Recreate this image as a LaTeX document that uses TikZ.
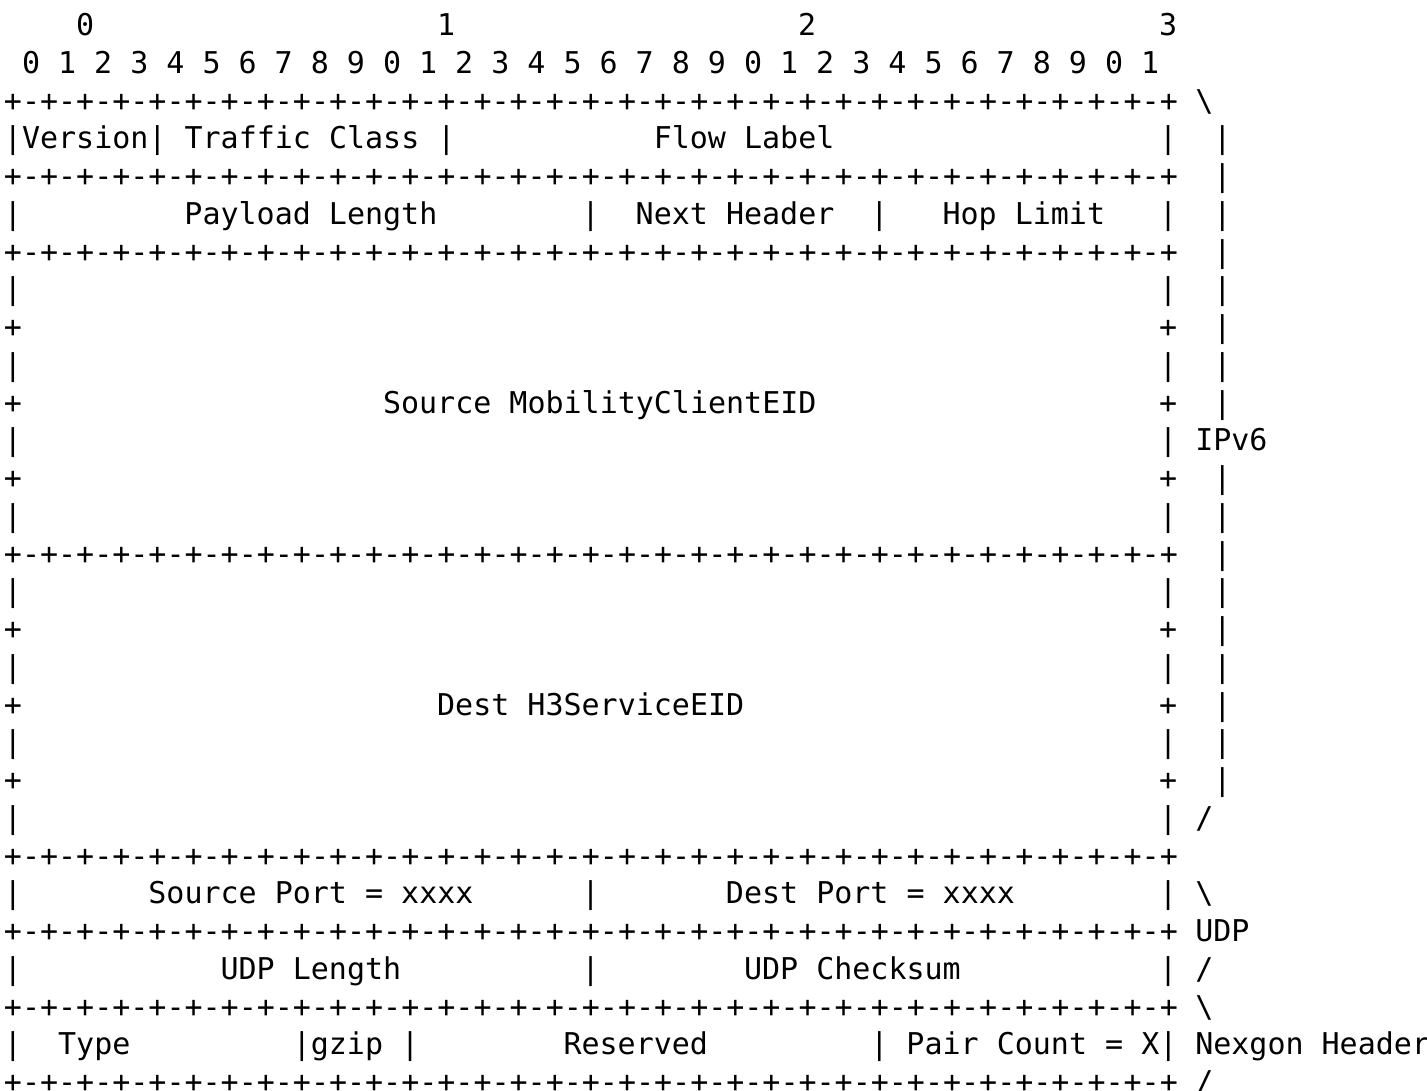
\documentclass[tikz,border=0pt]{standalone}
\usepackage{fontspec}
\usepackage{tikz}
\newfontfamily\pktfont{DejaVu Sans Mono}
\newcommand\bitrow{+-+-+-+-+-+-+-+-+-+-+-+-+-+-+-+-+-+-+-+-+-+-+-+-+-+-+-+-+-+-+-+-+}

\begin{document}
\begin{tikzpicture}[
  x=9.025pt, y=-18.875pt,
  every node/.style={anchor=base west, inner sep=0pt, outer sep=0pt,
  font=\pktfont\fontsize{15}{18}\selectfont}
]
\useasboundingbox[fill=white] (-0.2216,0.0543) rectangle (78.84,28.955);

% bit ruler
\foreach \n in {0,...,3}
  \node (hd\n) at (4+20*\n,1) {\n};
\foreach \b [evaluate=\b as \d using {int(mod(\b,10))}] in {0,...,31}
  \node (bit\b) at (1+2*\b,2) {\d};

% separator rows
\foreach \r in {3,5,7,15,23,25,27,29}
  \node (sep\r) at (0,\r) {\bitrow};

% address boxes
\foreach \r in {8,10,12,14,16,18,20,22} {
  \node (wl\r) at (0,\r) {|};
  \node (wr\r) at (64,\r) {|};
}
\foreach \r in {9,11,13,17,19,21} {
  \node (pl\r) at (0,\r) {+};
  \node (pr\r) at (64,\r) {+};
}

% IPv6 header
\node (ver) at (0,4) {|Version| Traffic Class |};
\node (flow) at (36,4) {Flow Label};
\node (flowend) at (64,4) {|};
\node (pl0) at (0,6) {|};
\node (paylen) at (10,6) {Payload Length};
\node (pl1) at (32,6) {|};
\node (nexthdr) at (35,6) {Next Header};
\node (pl2) at (48,6) {|};
\node (hoplim) at (52,6) {Hop Limit};
\node (pl3) at (64,6) {|};
\node (srceid) at (21,11) {Source MobilityClientEID};
\node (dsteid) at (24,19) {Dest H3ServiceEID};

% UDP header
\node (sp0) at (0,24) {|};
\node (srcport) at (8,24) {Source Port = xxxx};
\node (sp1) at (32,24) {|};
\node (dstport) at (40,24) {Dest Port = xxxx};
\node (sp2) at (64,24) {|};
\node (ul0) at (0,26) {|};
\node (udplen) at (12,26) {UDP Length};
\node (ul1) at (32,26) {|};
\node (udpsum) at (41,26) {UDP Checksum};
\node (ul2) at (64,26) {|};

% Nexgon header
\node (ty0) at (0,28) {|};
\node (type) at (3,28) {Type};
\node (gzip) at (16,28) {|gzip |};
\node (resv) at (31,28) {Reserved};
\node (pairs) at (48,28) {| Pair Count = X|};

% braces on the right
\node (ipa) at (66,3) {\textbackslash};
\foreach \r in {4,...,11,13,14,...,21}
  \node (ipbar\r) at (67,\r) {|};
\node (ipv6) at (66,12) {IPv6};
\node (ipb) at (66,22) {/};
\node (udpa) at (66,24) {\textbackslash};
\node (udp) at (66,25) {UDP};
\node (udpb) at (66,26) {/};
\node (nxa) at (66,27) {\textbackslash};
\node (nexgon) at (66,28) {Nexgon Header};
\node (nxb) at (66,29) {/};

\end{tikzpicture}
\end{document}
